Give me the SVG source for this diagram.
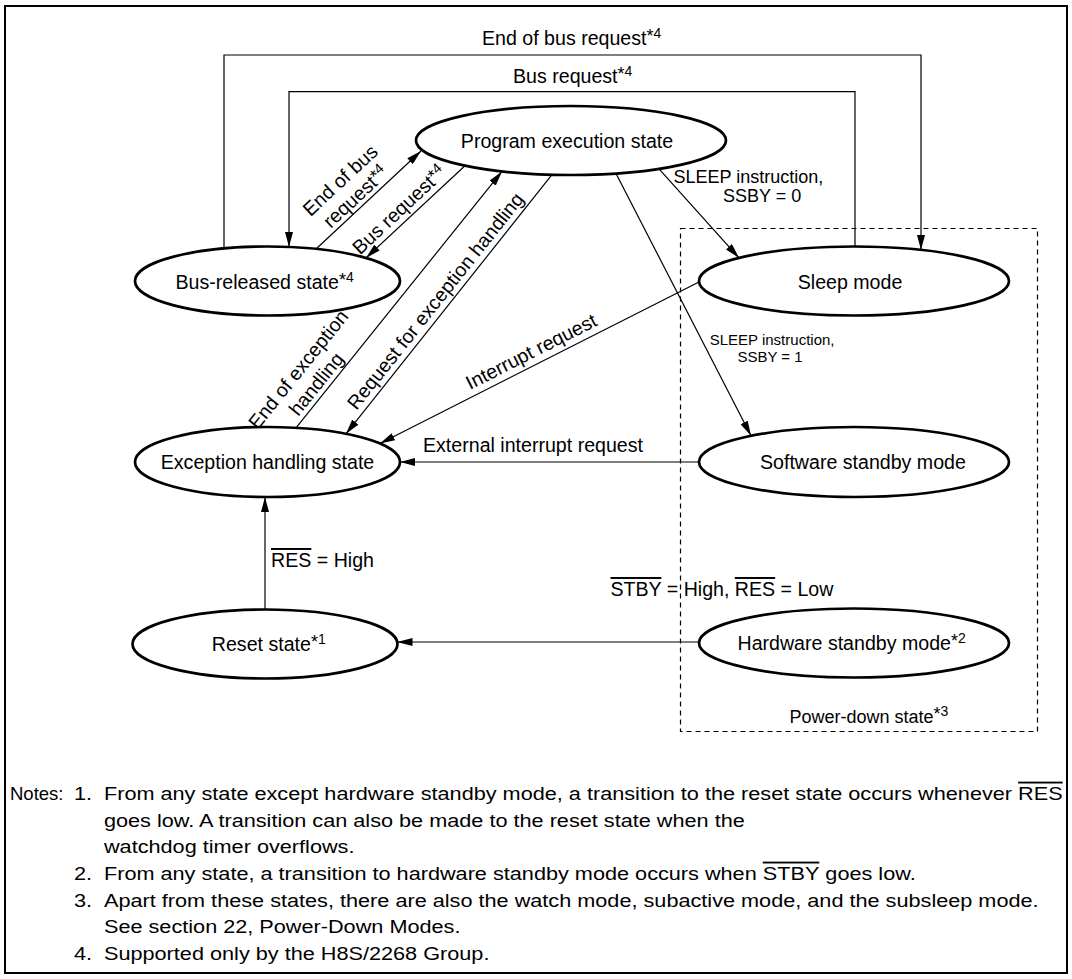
<svg xmlns="http://www.w3.org/2000/svg" width="1072" height="979" viewBox="0 0 1072 979">
<defs>
<marker id="ah" viewBox="0 0 15 8" refX="15" refY="4" markerWidth="15" markerHeight="8" markerUnits="userSpaceOnUse" orient="auto"><path d="M0,0 L15,4 L0,8 z" fill="#000"/></marker>
</defs>
<style>
text{font-family:"Liberation Sans",Arial,Helvetica,sans-serif;fill:#000}
.n{font-size:19.6px}
.lb{font-size:19.6px}
.sm{font-size:18px}
.xs{font-size:15px}
.nt{font-size:18.5px}
.ast{font-size:18px}
.sup{font-size:14px}
.ov{text-decoration:overline}
.node ellipse{fill:#fff;stroke:#000;stroke-width:2.7}
#connectors path{fill:none;stroke:#000;stroke-width:1.2}
#connectors path.a{marker-end:url(#ah)}
</style>
<rect x="0" y="0" width="1072" height="979" fill="#fff"/>
<rect id="frame" x="5" y="6" width="1062" height="967" fill="none" stroke="#000" stroke-width="2"/>
<g id="power-down">
<rect x="680.5" y="228.5" width="357" height="503" fill="none" stroke="#000" stroke-width="1.2" stroke-dasharray="5,4"/>
<text class="sm" x="789.5" y="723">Power-down state<tspan class="ast" dy="-2.7">*</tspan><tspan class="sup" dy="-4">3</tspan></text>
</g>
<g id="connectors">
<path class="a" d="M224,248.4 V55 H921 V250"/>
<path class="a" d="M855,246.5 V91.7 H289 V247"/>
<path class="a" d="M316,249 L421,151"/>
<path class="a" d="M465,165.7 L366,257.9"/>
<path class="a" d="M296,427.8 L502,171.4"/>
<path class="a" d="M552,174.7 L346,433.8"/>
<path class="a" d="M699,282 L380,443.5"/>
<path class="a" d="M659,168.9 L739,257.9"/>
<path class="a" d="M616,173.5 L751,435.8"/>
<path class="a" d="M699,462 H400"/>
<path class="a" d="M265,609.5 V497"/>
<path class="a" d="M699,642 H397.5"/>
</g>
<g id="labels">
<text class="lb" x="482" y="45">End of bus request<tspan class="ast" dy="-2.7">*</tspan><tspan class="sup" dy="-4">4</tspan></text>
<text class="lb" x="513" y="83">Bus request<tspan class="ast" dy="-2.7">*</tspan><tspan class="sup" dy="-4">4</tspan></text>
<g transform="translate(363.2,205) rotate(-43)">
<text class="lb" x="0" y="-27" text-anchor="middle">End of bus</text>
<text class="lb" x="0" y="-4.6" text-anchor="middle">request<tspan class="ast" dy="-2.7">*</tspan><tspan class="sup" dy="-4">4</tspan></text>
</g>
<g transform="translate(407.7,219.1) rotate(-43)">
<text class="lb" x="0" y="-6" text-anchor="middle">Bus request<tspan class="ast" dy="-2.7">*</tspan><tspan class="sup" dy="-4">4</tspan></text>
</g>
<g transform="translate(325.4,391.2) rotate(-51.2)">
<text class="lb" x="0" y="-28" text-anchor="middle">End of exception</text>
<text class="lb" x="0" y="-5" text-anchor="middle">handling</text>
</g>
<g transform="translate(445.3,308.9) rotate(-51.5)">
<text class="lb" x="0" y="-6" text-anchor="middle">Request for exception handling</text>
</g>
<g transform="translate(537.4,363.8) rotate(-26.85)">
<text class="lb" x="0" y="-7" text-anchor="middle">Interrupt request</text>
</g>
<text class="sm" x="673.5" y="183">SLEEP instruction,</text>
<text class="sm" x="723" y="202">SSBY = 0</text>
<text class="xs" x="709.7" y="345">SLEEP instruction,</text>
<text class="xs" x="737.4" y="361.7">SSBY = 1</text>
<text class="lb" x="423" y="451.7">External interrupt request</text>
<text class="lb" x="271" y="567"><tspan class="ov">RES</tspan> = High</text>
<text class="lb" x="610.5" y="596"><tspan class="ov">STBY</tspan> = High, <tspan class="ov">RES</tspan> = Low</text>
</g>
<g id="program" class="node">
<ellipse cx="571" cy="140.5" rx="155" ry="34.5"/>
<text class="n" x="567" y="148" text-anchor="middle">Program execution state</text>
</g>
<g id="bus-released" class="node">
<ellipse cx="267.5" cy="281" rx="132.5" ry="34.5"/>
<text class="n" x="175.5" y="289">Bus-released state<tspan class="ast" dy="-2.7">*</tspan><tspan class="sup" dy="-4">4</tspan></text>
</g>
<g id="sleep" class="node">
<ellipse cx="854" cy="281" rx="155" ry="34.5"/>
<text class="n" x="850" y="289" text-anchor="middle">Sleep mode</text>
</g>
<g id="exception" class="node">
<ellipse cx="267.5" cy="462" rx="132.5" ry="35"/>
<text class="n" x="267.5" y="469" text-anchor="middle">Exception handling state</text>
</g>
<g id="software-standby" class="node">
<ellipse cx="854" cy="462" rx="155" ry="35"/>
<text class="n" x="760" y="469">Software standby mode</text>
</g>
<g id="reset" class="node">
<ellipse cx="265" cy="644" rx="132.5" ry="34.5"/>
<text class="n" x="211.8" y="651">Reset state<tspan class="ast" dy="-2.7">*</tspan><tspan class="sup" dy="-4">1</tspan></text>
</g>
<g id="hardware-standby" class="node">
<ellipse cx="854" cy="643" rx="155" ry="34.5"/>
<text class="n" x="737.5" y="650">Hardware standby mode<tspan class="ast" dy="-2.7">*</tspan><tspan class="sup" dy="-4">2</tspan></text>
</g>
<g id="notes">
<text class="nt" x="10" y="800">Notes:</text>
<g transform="scale(1.172,1)">
<text class="nt" x="63.1" y="800">1.</text>
<text class="nt" x="88.7" y="800">From any state except hardware standby mode, a transition to the reset state occurs whenever <tspan class="ov">RES</tspan></text>
<text class="nt" x="88.7" y="826.7">goes low. A transition can also be made to the reset state when the</text>
<text class="nt" x="88.7" y="853.3">watchdog timer overflows.</text>
<text class="nt" x="63.1" y="880">2.</text>
<text class="nt" x="88.7" y="880">From any state, a transition to hardware standby mode occurs when <tspan class="ov">STBY</tspan> goes low.</text>
<text class="nt" x="63.1" y="906.7">3.</text>
<text class="nt" x="88.7" y="906.7">Apart from these states, there are also the watch mode, subactive mode, and the subsleep mode.</text>
<text class="nt" x="88.7" y="933.3">See section 22, Power-Down Modes.</text>
<text class="nt" x="63.1" y="960">4.</text>
<text class="nt" x="88.7" y="960">Supported only by the H8S/2268 Group.</text>
</g>
</g>
</svg>
